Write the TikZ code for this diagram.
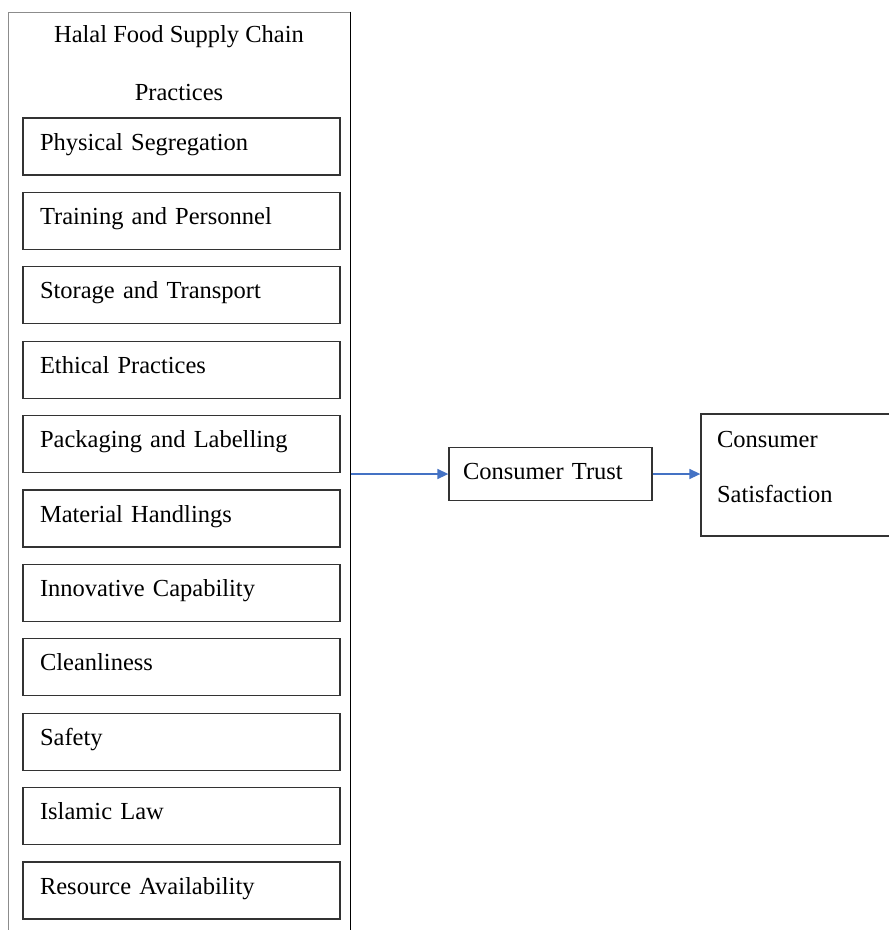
\documentclass[tikz,border=0pt]{standalone}
\usepackage{fontspec}
\setmainfont{Liberation Serif}
\usetikzlibrary{arrows.meta}
\definecolor{arrowblue}{HTML}{4472C4}
\definecolor{boxline}{HTML}{333333}
\newcommand{\diagfont}{\fontsize{24.5}{55}\selectfont}
\tikzset{
  txt/.style={font=\diagfont, inner sep=0pt},
  item/.style={draw=boxline, line width=1.3pt, inner xsep=17pt, inner ysep=0pt,
    text width=283pt, align=left, text height=32pt, text depth=25pt,
    font=\diagfont},
  trustbox/.style={draw=boxline, line width=1.3pt, inner xsep=14pt, inner ysep=0pt,
    text width=175pt, align=left, text height=32pt, text depth=21pt,
    font=\diagfont},
  satbox/.style={draw=boxline, line width=1.3pt, inner xsep=16pt, inner ysep=0pt,
    text width=227pt, align=left, text height=33pt, text depth=89pt,
    font=\diagfont},
  container/.style={draw=black!45, line width=1pt, inner sep=0pt,
    minimum width=342pt, minimum height=924pt},
  flow/.style={draw=arrowblue, line width=1.5pt, -{Triangle[length=11pt,width=10pt]}}
}
\begin{document}
\begin{tikzpicture}[x=1pt,y=-1pt]
\useasboundingbox (0,0) rectangle (889,930);
\clip (0,0) rectangle (889,930);
\node[container] (outer) at (179,474) {};
\draw[black, line width=1.3pt] (outer.north east) -- (outer.south east);
\node[txt, anchor=base] (title1) at (179,42) {Halal Food Supply Chain};
\node[txt, anchor=base] (title2) at (179,100) {Practices};
\foreach \t [count=\i from 0] in {Physical Segregation, Training and Personnel, Storage and Transport, Ethical Practices, Packaging and Labelling, Material Handlings, Innovative Capability, Cleanliness, Safety, Islamic Law, Resource Availability}{
  \node[item] (p\i) at (181.5,{118+\i*74.4+28.5}) {\t};
}
\node[trustbox] (trust) at (550.5,474) {Consumer Trust};
\node[satbox] (sat) at (830.5,475) {Consumer\\Satisfaction};
\draw[flow] (outer.east) -- (trust.west);
\draw[flow] (trust.east) -- (trust.east -| sat.west);
\end{tikzpicture}
\end{document}
